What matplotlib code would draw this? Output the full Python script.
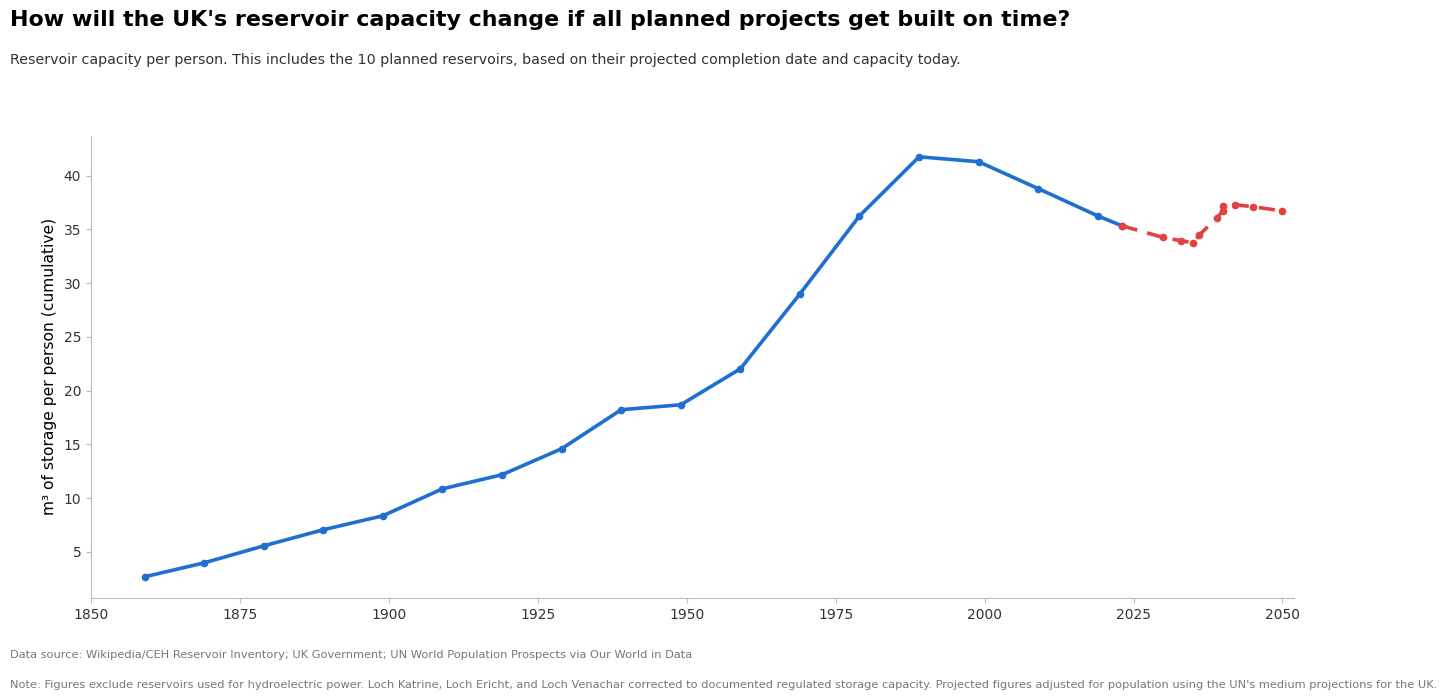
import matplotlib.pyplot as plt

plt.rcParams['font.family'] = 'DejaVu Sans'

# Historical reservoir capacity per person (m3, cumulative)
hist_years = [1859, 1869, 1879, 1889, 1899, 1909, 1919, 1929, 1939, 1949,
              1959, 1969, 1979, 1989, 1999, 2009, 2019, 2023]
hist_values = [2.67, 3.97, 5.55, 7.05, 8.35, 10.86, 12.17, 14.59, 18.22, 18.68,
               22.03, 29.0, 36.26, 41.76, 41.3, 38.8, 36.26, 35.35]

# Projection if planned reservoirs are built on time
proj_years = [2023, 2030, 2033, 2035, 2036, 2039, 2040, 2040, 2042, 2045, 2050]
proj_values = [35.35, 34.25, 33.95, 33.75, 34.45, 36.1, 36.7, 37.15, 37.3, 37.12, 36.72]

xticks = [1850, 1875, 1900, 1925, 1950, 1975, 2000, 2025, 2050]
yticks = [5, 10, 15, 20, 25, 30, 35, 40]

blue = '#1f6fd0'
red = '#e04141'

fig = plt.figure(figsize=(14.56, 7), dpi=100)
ax = fig.add_axes([0.0625, 0.146, 0.8265, 0.66])

ax.plot(hist_years, hist_values, color=blue, lw=2.6, marker='o', ms=4.5, zorder=3)
ax.plot(proj_years, proj_values, color=red, lw=2.6, ls=(0, (4.5, 2.8)),
        marker='o', ms=4.5, zorder=3)

ax.set_xlim(1850, 2052)
ax.set_xticks(xticks)
ax.set_yticks(yticks)
ax.set_ylabel('m³ of storage per person (cumulative)', fontsize=11.2, labelpad=5)

for side in ['top', 'right']:
    ax.spines[side].set_visible(False)
for side in ['left', 'bottom']:
    ax.spines[side].set_color('#bbbbbb')
ax.tick_params(colors='#bbbbbb', labelcolor='#333333', labelsize=10)

fig.text(0.007, 0.972, "How will the UK's reservoir capacity change if all planned projects get built on time?",
         fontsize=15.9, fontweight='bold', va='center')
fig.text(0.007, 0.914, 'Reservoir capacity per person. This includes the 10 planned reservoirs, '
         'based on their projected completion date and capacity today.',
         fontsize=10.3, color='#333333', va='center')
fig.text(0.007, 0.064, 'Data source: Wikipedia/CEH Reservoir Inventory; UK Government; '
         'UN World Population Prospects via Our World in Data',
         fontsize=8.2, color='#777777', va='center')
fig.text(0.007, 0.022, "Note: Figures exclude reservoirs used for hydroelectric power. Loch Katrine, Loch Ericht, "
         "and Loch Venachar corrected to documented regulated storage capacity. Projected figures adjusted "
         "for population using the UN's medium projections for the UK.",
         fontsize=8.2, color='#777777', va='center')

fig.savefig('out.png', dpi=100)
